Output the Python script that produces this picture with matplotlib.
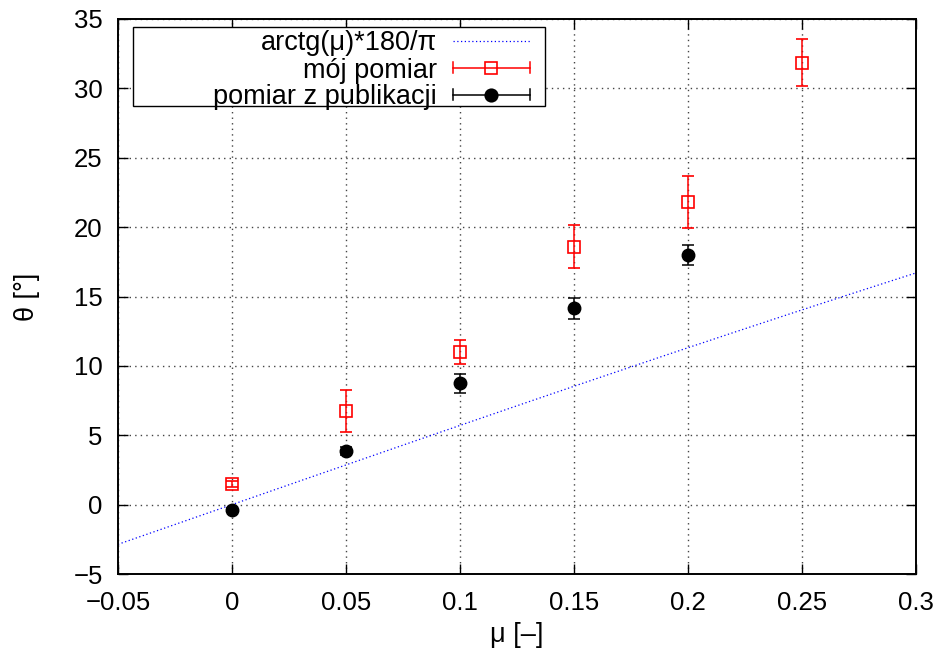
import numpy as np
import matplotlib.pyplot as plt
from matplotlib.lines import Line2D
from matplotlib.patches import Rectangle

plt.rcParams["font.family"] = ["Liberation Sans", "DejaVu Sans"]

# measured angle vs friction coefficient
mu = [0.0, 0.05, 0.1, 0.15, 0.2, 0.25]
theta_own = [1.5, 6.75, 11.0, 18.6, 21.8, 31.85]
err_own = [0.2, 1.5, 0.9, 1.55, 1.85, 1.7]

mu_pub = [0.0, 0.05, 0.1, 0.15, 0.2]
theta_pub = [-0.4, 3.85, 8.75, 14.15, 18.0]
err_pub = [0.15, 0.3, 0.7, 0.75, 0.7]

xticks = [-0.05, 0, 0.05, 0.1, 0.15, 0.2, 0.25, 0.3]
xticklabels = ["\u22120.05", "0", "0.05", "0.1", "0.15", "0.2", "0.25", "0.3"]
yticks = [-5, 0, 5, 10, 15, 20, 25, 30, 35]
yticklabels = ["\u22125"] + [str(v) for v in yticks[1:]]

legend_labels = ["arctg(\u03bc)*180/\u03c0", "mój pomiar", "pomiar z publikacji"]

W, H = 940, 656
fig = plt.figure(figsize=(W / 100, H / 100), dpi=100)
ax = fig.add_axes([118 / W, 82 / H, 798 / W, 555 / H])

xs = np.linspace(-0.05, 0.3, 200)
ax.plot(xs, np.degrees(np.arctan(xs)), color="blue", ls=(0, (1, 2)), lw=0.9, zorder=2)

ax.errorbar(mu, theta_own, yerr=err_own, fmt="s", color="red", mfc="none",
            mec="red", ms=9, mew=1.2, elinewidth=1.1, capsize=4, capthick=1.1, zorder=3)
ax.errorbar(mu_pub, theta_pub, yerr=err_pub, fmt="o", color="black",
            ms=9, elinewidth=1.1, capsize=4, capthick=1.1, zorder=3)

ax.set_xlim(-0.05, 0.3)
ax.set_ylim(-5, 35)
ax.set_xticks(xticks)
ax.set_xticklabels(xticklabels)
ax.set_yticks(yticks)
ax.set_yticklabels(yticklabels)
ax.tick_params(direction="in", length=7, width=1, labelsize=18.5, top=True, right=True)
ax.tick_params(axis="x", pad=12)
ax.tick_params(axis="y", pad=11)
ax.grid(True, color="#444444", ls=(0, (1, 3)), lw=1)
for s in ax.spines.values():
    s.set_linewidth(1.4)

ax.set_xlabel("\u03bc [\u2013]", fontsize=19.5, labelpad=5)
ax.set_ylabel("\u03b8 [\u00b0]", fontsize=19.5, labelpad=24)


# ---- key box, laid out in pixel positions (top-left origin) ----
def px(x, y):
    return x / W, 1 - y / H


tf = fig.transFigure
x0, y0 = px(133, 106)
x1, y1 = px(545, 27)
fig.add_artist(Rectangle((x0, y0), x1 - x0, y1 - y0, transform=tf,
                         facecolor="white", edgecolor="black", lw=1, zorder=5))

rows = [40.5, 67.5, 94.5]
text_right, s0, s1 = 437, 453, 530
for row, label in zip(rows, legend_labels):
    tx, ty = px(text_right, row)
    fig.text(tx, ty, label, ha="right", va="center_baseline", fontsize=19.5, zorder=6)

# sample for the arctan curve
a, ya = px(s0, rows[0])
b, _ = px(s1, rows[0])
fig.add_artist(Line2D([a, b], [ya, ya], transform=tf, color="blue",
                      ls=(0, (1, 2)), lw=0.9, zorder=6))

# samples for the two error-bar series
for row, col, mk, mfc in [(rows[1], "red", "s", "none"), (rows[2], "black", "o", "black")]:
    a, yy = px(s0, row)
    b, _ = px(s1, row)
    cap = 5.5 / H
    fig.add_artist(Line2D([a, b], [yy, yy], transform=tf, color=col, lw=1.1, zorder=6))
    for xe in (a, b):
        fig.add_artist(Line2D([xe, xe], [yy - cap, yy + cap], transform=tf,
                              color=col, lw=1.1, zorder=6))
    fig.add_artist(Line2D([(a + b) / 2], [yy], transform=tf, marker=mk, ms=9,
                          mfc=mfc, mec=col, mew=1.2, ls="none", zorder=7))

fig.savefig("out.png", dpi=100)
